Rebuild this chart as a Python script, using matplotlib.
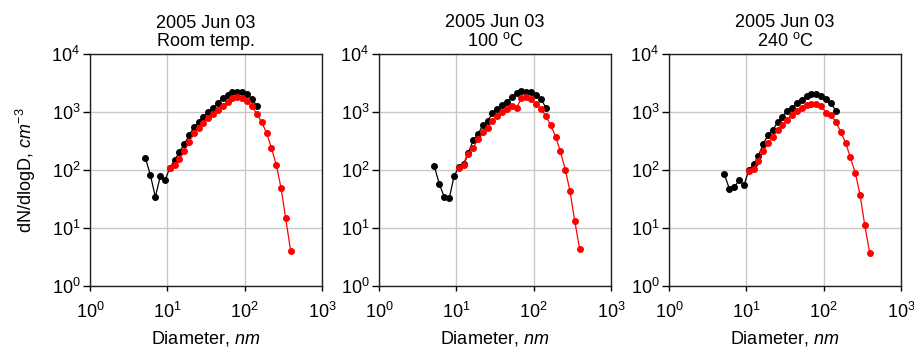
import matplotlib
matplotlib.use("Agg")
import matplotlib.pyplot as plt

plt.rcParams['font.family'] = ['Liberation Sans', 'DejaVu Sans']
plt.rcParams['mathtext.fontset'] = 'custom'
plt.rcParams['mathtext.rm'] = 'Liberation Sans'
plt.rcParams['mathtext.it'] = 'Liberation Sans:italic'
plt.rcParams['mathtext.default'] = 'regular'

# Diameters (nm)
d_black = [5.19, 6.03, 7.00, 8.12, 9.33, 10.7, 12.4, 14.3, 16.6, 19.1, 22.1, 25.4,
           29.2, 33.9, 38.9, 45.2, 52.5, 60.3, 69.3, 80.4, 93.3, 107, 124, 144]
d_red = [10.7, 12.4, 14.3, 16.6, 19.1, 22.1, 25.4, 29.2, 33.9, 38.9, 45.2, 52.5,
         60.3, 69.3, 80.4, 93.3, 107, 124, 144, 166, 193, 221, 257, 295, 339, 394]

titles = ["2005 Jun 03\nRoom temp.", "2005 Jun 03\n100 $^{o}$C", "2005 Jun 03\n240 $^{o}$C"]

black_room = [164, 81.9, 34.5, 78.7, 66.2, 107, 147, 205, 279, 394, 549, 671,
              819, 1013, 1189, 1432, 1726, 1972, 2193, 2223, 2223, 2023, 1702, 1254]
red_room = [110, 120, 153, 213, 310, 432, 521, 645, 798, 936, 1097, 1288,
            1510, 1726, 1796, 1773, 1552, 1254, 923, 662, 432, 244, 122, 49.4, 14.7, 3.99]

black_100 = [116, 57.2, 34.0, 33.1, 77.6, 111, 127, 200, 327, 415, 603, 698,
             961, 1142, 1305, 1491, 1820, 2134, 2312, 2252, 2223, 1972, 1679, 1189]
red_100 = [110, 124, 187, 244, 340, 450, 535, 708, 864, 1000, 1142, 1254,
           1189, 1726, 1796, 1679, 1358, 1142, 841, 596, 373, 211, 100, 43.3, 13.4, 4.27]

black_240 = [85.3, 47.4, 50.7, 67.9, 54.2, 98.6, 125, 177, 282, 405, 494, 671,
             830, 1055, 1173, 1432, 1637, 1894, 2078, 2078, 1919, 1679, 1413, 1055]
red_240 = [97.3, 104, 145, 211, 290, 378, 481, 596, 727, 875, 1027, 1158,
           1305, 1396, 1396, 1288, 973, 887, 671, 456, 290, 166, 88.7, 37.8, 11.4, 3.73]

blacks = [black_room, black_100, black_240]
reds = [red_room, red_100, red_240]

W, H = 914, 353
fig = plt.figure(figsize=(W / 100, H / 100), dpi=100)
lefts = [90, 379, 669]
for i in range(3):
    ax = fig.add_axes([lefts[i] / W, (H - 286) / H, 232 / W, 232 / H])
    ax.plot(d_black, blacks[i], color='black', marker='o', markersize=4.0, lw=0.9, zorder=3)
    ax.plot(d_red, reds[i], color='#ff0000', marker='o', markersize=4.0, lw=0.9, zorder=4)
    ax.set_xscale('log')
    ax.set_yscale('log')
    ax.set_xlim(1, 1000)
    ax.set_ylim(1, 10000)
    ax.set_xticks([1, 10, 100, 1000])
    ax.set_yticks([1, 10, 100, 1000, 10000])
    ax.minorticks_off()
    ax.grid(True, color='#c8c8c8', lw=1.0, zorder=0)
    for s in ax.spines.values():
        s.set_color('#202020')
        s.set_linewidth(1.0)
    ax.tick_params(axis='both', labelsize=13, direction='out', width=1.0)
    ax.tick_params(axis='y', length=5, pad=2)
    ax.tick_params(axis='x', length=3.5, pad=8)
    ax.set_title(titles[i], fontsize=13, pad=6, linespacing=1.05)
    ax.set_xlabel('Diameter, $\\mathit{nm}$', fontsize=13, labelpad=5)
    if i == 0:
        ax.set_ylabel('dN/dlogD, $\\mathit{cm}^{-3}$', fontsize=13, labelpad=10)

fig.savefig('out.png', dpi=100)
